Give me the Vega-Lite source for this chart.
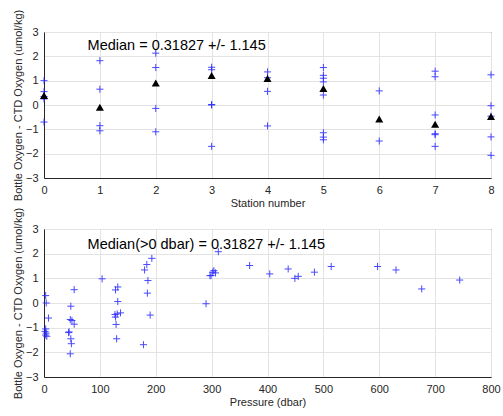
{
  "$schema": "https://vega.github.io/schema/vega-lite/v6.json",
  "padding": {"top": 8, "left": 11, "right": 5, "bottom": 5},
  "spacing": -3,
  "config": {
    "font": "Liberation Sans",
    "view": {"stroke": "#262626", "strokeWidth": 1},
    "axis": {
      "labelFont": "Liberation Sans", "titleFont": "Liberation Sans",
      "labelFontSize": 11, "titleFontSize": 11, "titleFontWeight": "normal",
      "labelColor": "#262626", "titleColor": "#262626",
      "domainColor": "#262626", "ticks": false, "labelFlush": false, "labelOverlap": false,
      "gridColor": "#e3e3e3", "labelPadding": 6, "titlePadding": 2
    }
  },
  "datasets": {
    "stations": [
      {"station": 0, "diff": 1.0}, {"station": 0, "diff": 0.55}, {"station": 0, "diff": 0.35}, {"station": 0, "diff": 0.25}, {"station": 0, "diff": -0.7},
      {"station": 1, "diff": 1.82}, {"station": 1, "diff": 0.65}, {"station": 1, "diff": -0.85}, {"station": 1, "diff": -1.06},
      {"station": 2, "diff": 2.13}, {"station": 2, "diff": 1.54}, {"station": 2, "diff": -0.14}, {"station": 2, "diff": -1.1},
      {"station": 3, "diff": 1.55}, {"station": 3, "diff": 1.45}, {"station": 3, "diff": 0.02}, {"station": 3, "diff": 0.0}, {"station": 3, "diff": -1.7},
      {"station": 4, "diff": 1.36}, {"station": 4, "diff": 1.12}, {"station": 4, "diff": 0.56}, {"station": 4, "diff": -0.86},
      {"station": 5, "diff": 1.54}, {"station": 5, "diff": 1.22}, {"station": 5, "diff": 1.1}, {"station": 5, "diff": 0.95}, {"station": 5, "diff": 0.41}, {"station": 5, "diff": -1.14}, {"station": 5, "diff": -1.32}, {"station": 5, "diff": -1.43},
      {"station": 6, "diff": 0.58}, {"station": 6, "diff": -1.48},
      {"station": 7, "diff": 1.39}, {"station": 7, "diff": 1.16}, {"station": 7, "diff": -0.41}, {"station": 7, "diff": -1.18}, {"station": 7, "diff": -1.22}, {"station": 7, "diff": -1.7},
      {"station": 8, "diff": 1.24}, {"station": 8, "diff": -0.03}, {"station": 8, "diff": -0.46}, {"station": 8, "diff": -1.31}, {"station": 8, "diff": -2.07}
    ],
    "medians": [
      {"station": 0, "diff": 0.39}, {"station": 1, "diff": -0.09}, {"station": 2, "diff": 0.9},
      {"station": 3, "diff": 1.21}, {"station": 4, "diff": 1.09}, {"station": 5, "diff": 0.68},
      {"station": 6, "diff": -0.58}, {"station": 7, "diff": -0.79}, {"station": 8, "diff": -0.47}
    ],
    "pressure": [
      {"p": 3, "diff": 0.3}, {"p": 4, "diff": 0.0}, {"p": 8, "diff": -0.61},
      {"p": 3, "diff": -1.05}, {"p": 2, "diff": -1.15}, {"p": 4, "diff": -1.22}, {"p": 3, "diff": -1.3}, {"p": 5, "diff": -1.35},
      {"p": 54, "diff": 0.54}, {"p": 48, "diff": -0.13}, {"p": 47, "diff": -0.67}, {"p": 50, "diff": -0.71}, {"p": 54, "diff": -0.86},
      {"p": 45, "diff": -1.17}, {"p": 44, "diff": -1.2}, {"p": 48, "diff": -1.45}, {"p": 49, "diff": -1.65}, {"p": 47, "diff": -2.06},
      {"p": 104, "diff": 0.98}, {"p": 128, "diff": 0.53}, {"p": 132, "diff": 0.65}, {"p": 132, "diff": 0.06},
      {"p": 127, "diff": -0.47}, {"p": 128, "diff": -0.57}, {"p": 137, "diff": -0.4}, {"p": 131, "diff": -0.44},
      {"p": 129, "diff": -0.87}, {"p": 130, "diff": -1.45},
      {"p": 180, "diff": 1.34}, {"p": 184, "diff": 1.56}, {"p": 193, "diff": 1.81}, {"p": 186, "diff": 0.91}, {"p": 185, "diff": 0.4}, {"p": 190, "diff": -0.49}, {"p": 178, "diff": -1.69},
      {"p": 290, "diff": -0.03}, {"p": 297, "diff": 1.11}, {"p": 299, "diff": 1.11}, {"p": 302, "diff": 1.25}, {"p": 304, "diff": 1.31}, {"p": 307, "diff": 1.22}, {"p": 312, "diff": 2.08},
      {"p": 368, "diff": 1.52}, {"p": 404, "diff": 1.18}, {"p": 437, "diff": 1.38}, {"p": 449, "diff": 1.0}, {"p": 455, "diff": 1.08},
      {"p": 484, "diff": 1.25}, {"p": 514, "diff": 1.48}, {"p": 597, "diff": 1.48}, {"p": 630, "diff": 1.34}, {"p": 676, "diff": 0.57}, {"p": 744, "diff": 0.93}
    ]
  },
  "vconcat": [
    {
      "width": 447, "height": 146,
      "layer": [
        {
          "data": {"name": "stations"},
          "mark": {"type": "point", "shape": "M-1,0L1,0M0,-1L0,1", "filled": false, "stroke": "#2a2aff", "strokeWidth": 1, "size": 50, "opacity": 0.85},
          "encoding": {
            "x": {"field": "station", "type": "quantitative", "scale": {"domain": [0, 8], "nice": false, "zero": false}, "axis": {"values": [0,1,2,3,4,5,6,7,8], "title": "Station number", "format": "d"}},
            "y": {"field": "diff", "type": "quantitative", "scale": {"domain": [-3, 3], "nice": false, "zero": false}, "axis": {"values": [-3,-2,-1,0,1,2,3], "title": "Bottle Oxygen - CTD Oxygen (umol/kg)", "format": "d"}}
          }
        },
        {
          "data": {"name": "medians"},
          "mark": {"type": "point", "shape": "triangle-up", "filled": true, "color": "black", "size": 65, "opacity": 1},
          "encoding": {
            "x": {"field": "station", "type": "quantitative", "scale": {"domain": [0, 8], "nice": false, "zero": false}, "axis": {"values": [0,1,2,3,4,5,6,7,8], "title": "Station number", "format": "d"}},
            "y": {"field": "diff", "type": "quantitative", "scale": {"domain": [-3, 3], "nice": false, "zero": false}, "axis": {"values": [-3,-2,-1,0,1,2,3], "title": "Bottle Oxygen - CTD Oxygen (umol/kg)", "format": "d"}}
          }
        },
        {
          "data": {"values": [{"label": "Median = 0.31827 +/- 1.145", "sx": 0.78, "sy": 2.41}]},
          "mark": {"type": "text", "align": "left", "baseline": "middle", "fontSize": 14.5, "color": "black", "font": "Liberation Sans"},
          "encoding": {
            "x": {"field": "sx", "type": "quantitative", "scale": {"domain": [0, 8], "nice": false, "zero": false}, "axis": {"values": [0,1,2,3,4,5,6,7,8], "title": "Station number", "format": "d"}},
            "y": {"field": "sy", "type": "quantitative", "scale": {"domain": [-3, 3], "nice": false, "zero": false}, "axis": {"values": [-3,-2,-1,0,1,2,3], "title": "Bottle Oxygen - CTD Oxygen (umol/kg)", "format": "d"}},
            "text": {"field": "label"}
          }
        }
      ]
    },
    {
      "width": 447, "height": 148,
      "layer": [
        {
          "data": {"name": "pressure"},
          "mark": {"type": "point", "shape": "M-1,0L1,0M0,-1L0,1", "filled": false, "stroke": "#2a2aff", "strokeWidth": 1, "size": 50, "opacity": 0.85},
          "encoding": {
            "x": {"field": "p", "type": "quantitative", "scale": {"domain": [0, 800], "nice": false, "zero": false}, "axis": {"values": [0,100,200,300,400,500,600,700,800], "title": "Pressure (dbar)", "format": "d"}},
            "y": {"field": "diff", "type": "quantitative", "scale": {"domain": [-3, 3], "nice": false, "zero": false}, "axis": {"values": [-3,-2,-1,0,1,2,3], "title": "Bottle Oxygen - CTD Oxygen (umol/kg)", "format": "d"}}
          }
        },
        {
          "data": {"values": [{"label": "Median(>0 dbar) = 0.31827 +/- 1.145", "sx": 78, "sy": 2.35}]},
          "mark": {"type": "text", "align": "left", "baseline": "middle", "fontSize": 14.5, "color": "black", "font": "Liberation Sans"},
          "encoding": {
            "x": {"field": "sx", "type": "quantitative", "scale": {"domain": [0, 800], "nice": false, "zero": false}, "axis": {"values": [0,100,200,300,400,500,600,700,800], "title": "Pressure (dbar)", "format": "d"}},
            "y": {"field": "sy", "type": "quantitative", "scale": {"domain": [-3, 3], "nice": false, "zero": false}, "axis": {"values": [-3,-2,-1,0,1,2,3], "title": "Bottle Oxygen - CTD Oxygen (umol/kg)", "format": "d"}},
            "text": {"field": "label"}
          }
        }
      ]
    }
  ]
}
